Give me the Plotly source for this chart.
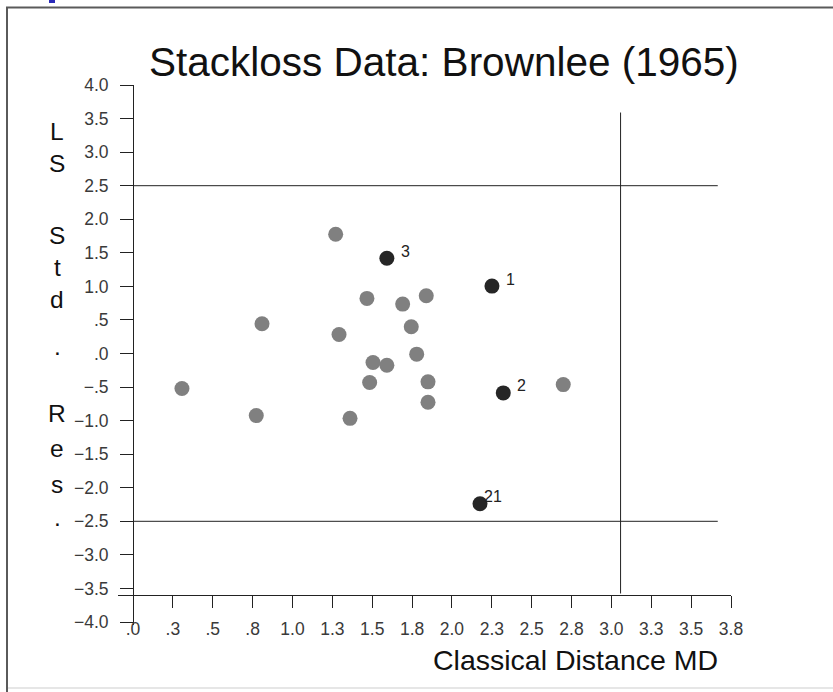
import plotly.graph_objects as go

# Stackloss data (Brownlee, 1965): LS standardized residuals vs classical Mahalanobis distance
regular_md = [1.271, 1.467, 1.691, 1.839, 0.809, 1.292, 1.745, 1.779, 1.505,
              1.592, 1.484, 1.850, 1.850, 0.307, 0.773, 1.361, 2.698]
regular_res = [1.776, 0.821, 0.736, 0.861, 0.443, 0.284, 0.399, -0.010, -0.134,
               -0.175, -0.433, -0.422, -0.727, -0.522, -0.925, -0.966, -0.463]

flagged_obs = ["1", "2", "3", "21"]
flagged_md = [2.251, 2.322, 1.592, 2.176]
flagged_res = [1.004, -0.587, 1.418, -2.239]

res_cutoff = 2.5
md_cutoff = 3.0575  # sqrt of chi-square(3) 97.5% quantile

x_tickvals = [0.0, 0.25, 0.5, 0.75, 1.0, 1.25, 1.5, 1.75, 2.0, 2.25, 2.5, 2.75,
              3.0, 3.25, 3.5, 3.75]
x_ticktext = [".0", ".3", ".5", ".8", "1.0", "1.3", "1.5", "1.8", "2.0", "2.3",
              "2.5", "2.8", "3.0", "3.3", "3.5", "3.8"]
y_tickvals = [4.0, 3.5, 3.0, 2.5, 2.0, 1.5, 1.0, 0.5, 0.0, -0.5, -1.0, -1.5,
              -2.0, -2.5, -3.0, -3.5, -4.0]
y_ticktext = ["4.0", "3.5", "3.0", "2.5", "2.0", "1.5", "1.0", ".5", ".0", "\u2212.5",
              "\u22121.0", "\u22121.5", "\u22122.0", "\u22122.5", "\u22123.0",
              "\u22123.5", "\u22124.0"]

title_text = "Stackloss Data: Brownlee (1965)"
x_title = "Classical Distance MD"
y_title_letters = ["L", "S", "S", "t", "d", ".", "R", "e", "s", "."]

W, H = 833, 692
FONT = "Liberation Sans, Arial, sans-serif"
INK = "#222222"


def px(x):
    return x / W


def py(y):
    return 1 - y / H


fig = go.Figure()

fig.add_trace(go.Scatter(
    x=regular_md, y=regular_res, mode="markers",
    marker=dict(size=15, color="#808080", line=dict(width=0)),
    hoverinfo="skip", showlegend=False,
))
fig.add_trace(go.Scatter(
    x=flagged_md, y=flagged_res, mode="markers",
    marker=dict(size=15, color="#262626", line=dict(width=0)),
    hoverinfo="skip", showlegend=False,
))

# observation numbers next to the flagged points
label_shift = {"1": 12, "2": 12, "3": 12, "21": 2}
annotations = []
for obs, xv, yv in zip(flagged_obs, flagged_md, flagged_res):
    annotations.append(dict(
        x=xv, y=yv, xref="x", yref="y", text=obs, showarrow=False,
        xanchor="left", yanchor="middle", xshift=label_shift[obs], yshift=7,
        font=dict(family=FONT, size=16, color=INK),
    ))

# chart title and axis titles
annotations.append(dict(
    x=px(444), y=py(62), xref="paper", yref="paper", text=title_text,
    showarrow=False, xanchor="center", yanchor="middle",
    font=dict(family=FONT, size=40.5, color="#111111"),
))
annotations.append(dict(
    x=px(575), y=py(660), xref="paper", yref="paper", text=x_title,
    showarrow=False, xanchor="center", yanchor="middle",
    font=dict(family=FONT, size=28.5, color="#111111"),
))
letter_rows = [132, 163.5, 235.5, 267, 299, 346, 413, 448, 484, 517]
for ch, yy in zip(y_title_letters, letter_rows):
    annotations.append(dict(
        x=px(57), y=py(yy), xref="paper", yref="paper", text=ch,
        showarrow=False, xanchor="center", yanchor="middle",
        font=dict(family=FONT, size=24.5, color="#111111"),
    ))

shapes = [
    # cutoff reference lines
    dict(type="line", xref="x", yref="y", x0=0, x1=3.667, y0=res_cutoff, y1=res_cutoff,
         line=dict(color=INK, width=1)),
    dict(type="line", xref="x", yref="y", x0=0, x1=3.667, y0=-res_cutoff, y1=-res_cutoff,
         line=dict(color=INK, width=1)),
    dict(type="line", xref="x", yref="y", x0=md_cutoff, x1=md_cutoff, y0=-3.575, y1=3.59,
         line=dict(color=INK, width=1)),
    # page frame
    dict(type="line", xref="paper", yref="paper", x0=px(6), x1=1, y0=py(7.5), y1=py(7.5),
         line=dict(color="#5a5a5a", width=2)),
    dict(type="line", xref="paper", yref="paper", x0=px(7), x1=px(7), y0=py(7), y1=0,
         line=dict(color="#5a5a5a", width=2)),
    dict(type="line", xref="paper", yref="paper", x0=px(8), x1=1, y0=py(688), y1=py(688),
         line=dict(color="#e6e6e6", width=2)),
    dict(type="rect", xref="paper", yref="paper", x0=px(49), x1=px(55), y0=py(3), y1=1,
         fillcolor="#2a2ab8", line=dict(width=0)),
]

x_left = -(133 - 118) / ((731 - 133) / 3.75)
y_bottom = 4.0 - (625 - 85) / ((622 - 85) / 8.0)

fig.update_layout(
    template="none",
    width=W, height=H,
    margin=dict(l=0, r=0, t=0, b=0, pad=0, autoexpand=False),
    paper_bgcolor="white", plot_bgcolor="white",
    showlegend=False,
    annotations=annotations,
    shapes=shapes,
    xaxis=dict(
        domain=[px(118), px(731)], range=[x_left, 3.75],
        anchor="free", position=py(594.5), automargin=False,
        showgrid=False, zeroline=False, showline=True, linecolor=INK, linewidth=1,
        tickmode="array", tickvals=x_tickvals, ticktext=x_ticktext,
        ticks="outside", ticklen=12, tickwidth=1, tickcolor=INK,
        tickfont=dict(family=FONT, size=17.5, color="#3a3a3a"),
        ticklabelstandoff=6,
    ),
    yaxis=dict(
        domain=[py(625), py(85)], range=[y_bottom, 4.0],
        anchor="free", position=px(133), automargin=False,
        showgrid=False, zeroline=False, showline=True, linecolor=INK, linewidth=1,
        tickmode="array", tickvals=y_tickvals, ticktext=y_ticktext,
        ticks="outside", ticklen=13, tickwidth=1, tickcolor=INK,
        tickfont=dict(family=FONT, size=17.5, color="#3a3a3a"),
        ticklabelstandoff=8,
    ),
)

fig.write_html("out.html")
